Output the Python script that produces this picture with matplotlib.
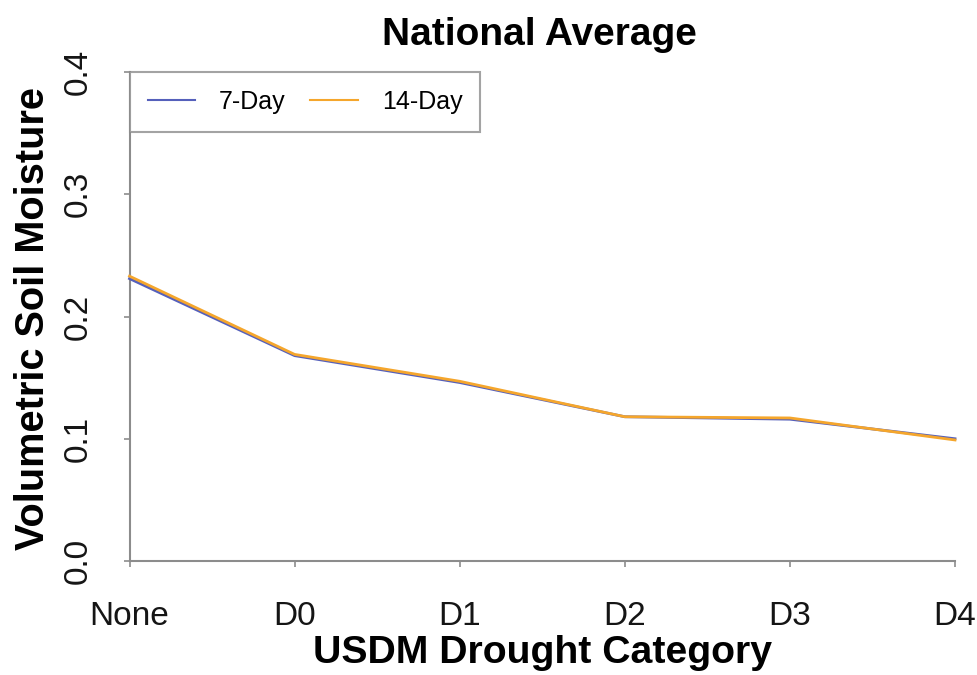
import matplotlib
matplotlib.use("Agg")
import matplotlib.pyplot as plt

categories = ["None", "D0", "D1", "D2", "D3", "D4"]
day7 = [0.231, 0.168, 0.146, 0.118, 0.116, 0.100]
day14 = [0.233, 0.169, 0.147, 0.118, 0.117, 0.099]
yticks = [0.0, 0.1, 0.2, 0.3, 0.4]
ytick_labels = ["0.0", "0.1", "0.2", "0.3", "0.4"]

plt.rcParams['font.family'] = ['Liberation Sans', 'DejaVu Sans']

fig = plt.figure(figsize=(9.78, 6.75), dpi=100)
ax = fig.add_axes([129.5/978, 1-561/675, (955-129.5)/978, (561-72)/675])

x = list(range(len(categories)))
ax.plot(x, day7, color='#5560bb', lw=2.0, label='7-Day', clip_on=False, zorder=3)
ax.plot(x, day14, color='#f5a62c', lw=2.0, label='14-Day', clip_on=False, zorder=4)

ax.set_xlim(0, len(categories)-1)
ax.set_ylim(0, 0.4)
for s in ['top', 'right']:
    ax.spines[s].set_visible(False)
for s in ['left', 'bottom']:
    ax.spines[s].set_color('#8c8c8c')
    ax.spines[s].set_linewidth(1.5)

ax.set_xticks(x)
ax.set_xticklabels(categories)
ax.set_yticks(yticks)
ax.set_yticklabels(ytick_labels, rotation=90, va='center')
ax.tick_params(axis='both', direction='out', length=4.5, width=1.2, color='#8c8c8c',
               labelsize=24, labelcolor='#151515')
ax.tick_params(axis='x', pad=24)
ax.tick_params(axis='y', pad=21)

leg = ax.legend(loc='upper left', bbox_to_anchor=(0, 1), borderaxespad=0, ncol=2,
                fontsize=18, handlelength=1.9, handletextpad=0.95, columnspacing=1.0,
                borderpad=0.72, frameon=True, fancybox=False)
leg.get_frame().set_edgecolor('#8c8c8c')
leg.get_frame().set_linewidth(1.5)
for l in leg.get_lines():
    l.set_linewidth(1.5)

fig.text(539/978, 1-45/675, "National Average", ha='center', va='baseline',
         fontsize=28, fontweight='bold')
fig.text(543/978, 1-663/675, "USDM Drought Category", ha='center', va='baseline',
         fontsize=28.3, fontweight='bold')
fig.text(33/978, 1-318/675, "Volumetric Soil Moisture", ha='center', va='center',
         rotation=90, fontsize=28.6, fontweight='bold')

fig.savefig("out.png", dpi=100)
